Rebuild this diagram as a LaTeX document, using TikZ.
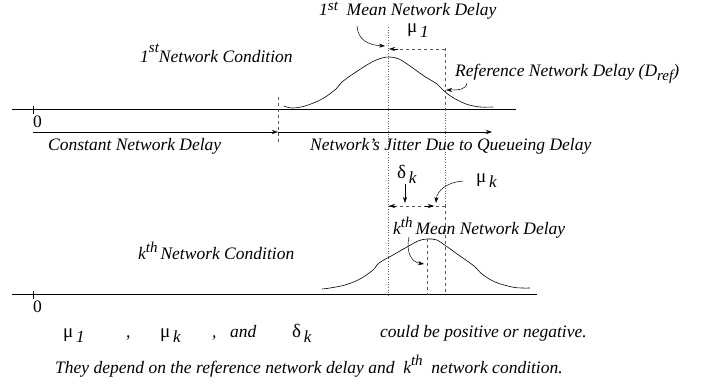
\documentclass[tikz,border=0pt]{standalone}
\usepackage{fontspec}
\setmainfont{Liberation Serif}
\usetikzlibrary{arrows.meta}
\tikzset{
  lbl/.style={font=\fontsize{17.5}{20}\selectfont\itshape, inner sep=0pt, anchor=base west},
  gk/.style={font=\fontsize{19}{21}\selectfont, inner sep=0pt, anchor=base west},
  axis/.style={line width=1pt},
  tip/.style={-{Stealth[length=6pt,width=4pt]}, line width=0.5pt},
  dotl/.style={dotted, line width=0.6pt, gray!80!black},
  dashl/.style={dash pattern=on 3pt off 3pt, line width=0.6pt, gray!70!black},
  crv/.style={line width=0.6pt},
}
\newcommand{\subx}[1]{\raisebox{-5pt}{\fontsize{17}{17}\selectfont\itshape\,#1}}
\newcommand{\supx}[2]{\raisebox{#1}{\fontsize{15}{15}\selectfont #2}}
\begin{document}
\begin{tikzpicture}[x=1pt,y=-1pt]
\useasboundingbox (0,0) rectangle (702,387);
% coordinates
\coordinate (a1l) at (12,110); \coordinate (a1r) at (516,110);
\coordinate (a2l) at (12,295); \coordinate (a2r) at (537,295);
\coordinate (z1) at (33,132); \coordinate (cst) at (278,132); \coordinate (jit) at (492,132);
% axes
\draw[axis] (a1l) -- (a1r);
\draw[axis] (a2l) -- (a2r);
\draw[line width=0.6pt] (33,106) -- (33,114);
\draw[line width=0.6pt] (33,291) -- (33,299);
\node[lbl, font=\fontsize{17.5}{20}\selectfont] (zero1) at (33,128) {0};
\node[lbl, font=\fontsize{17.5}{20}\selectfont] (zero2) at (33,313) {0};
% delay arrows
\draw[dashl] (278,97) -- (278,142);
\draw[tip] (z1) -- (cst);
\draw[tip] (cst) -- (jit);
\node[lbl] (cnd) at (48,151) {Constant Network Delay};
\node[lbl] (njd) at (310,151) {Network's Jitter Due to Queueing Delay};
% top curve
\draw[crv] plot[smooth, tension=0.6] coordinates {(284,106) (292,108) (305,106) (322,99) (336,89) (342,82) (356,72) (372,62) (382,58) (390,57) (399,59) (410,66) (424,76) (437,84) (443,90) (452,97) (466,104) (480,107) (493,107)};
% bottom curve
\draw[crv] plot[smooth, tension=0.6] coordinates {(322,289) (330,288) (345,285) (360,279) (373,270) (379,263) (393,255) (407,247) (418,241) (427,239) (437,240) (446,246) (460,256) (474,266) (482,274) (495,282) (512,287) (522,288) (530,288)};
% vertical guide lines
\draw[dotl] (388,27) -- (388,295);
\draw[dashl] (445,48) -- (445,110);
\draw[dotl] (445,110) -- (445,205);
\draw[dashl] (445,205) -- (445,295);
\draw[dashl] (427,239) -- (427,295);
% mu1 bracket
\coordinate (m1r) at (445,49); \coordinate (m1l) at (389,49);
\draw[dashl] (m1r) -- (398,49);
\draw[tip] (398,49) -- (m1l);
\node[gk] (mu1) at (407,33) {μ\subx{1}};
% 1st mean label
\node[lbl] (m1lab) at (319,16) {1\supx{5pt}{st}\ \ Mean Network Delay};
\draw[tip] (357,26) .. controls (358,40) and (368,45) .. (385,46);
% reference label
\node[lbl] (ref) at (455,77) {Reference Network Delay (D\raisebox{-4pt}{\fontsize{15}{15}\selectfont ref})};
\draw[tip] (467,83) .. controls (466,90) and (458,90) .. (446,90);
% 1st condition
\node[lbl] (c1) at (140,63) {1\supx{10pt}{st}Network Condition};
% delta k bracket
\draw[dashl] (388,206) -- (445,206);
\draw[tip] (396,206) -- (389,206);
\draw[tip] (425,206) -- (434,206);
\node[gk] (dk) at (397,179) {δ\subx{k}};
\draw[tip] (405,184) -- (405,203);
\node[gk] (muk) at (476,183) {μ\subx{k}};
\draw[tip] (463,181) .. controls (448,182) and (437,190) .. (436,203);
% kth mean label
\node[lbl] (kml) at (393,235) {k\supx{7pt}{th}\,Mean Network Delay};
\draw[tip] (409,237) .. controls (406,250) and (410,262) .. (424,264);
% kth condition
\node[lbl] (kc) at (138,260) {k\supx{7pt}{th}\,Network Condition};
% bottom text
\node[gk] (b1) at (63,338) {μ\subx{1}};
\node[lbl] (b2) at (126,338) {,};
\node[gk] (b3) at (160,338) {μ\subx{k}};
\node[lbl] (b4) at (212,338) {,};
\node[lbl] (b5) at (230,338) {and};
\node[gk] (b6) at (292,338) {δ\subx{k}};
\node[lbl] (b7) at (380,338) {could be positive or negative.};
\node[lbl] (b8) at (55,374) {They depend on the reference network delay and\ \ k\supx{8pt}{th}\ \ network condition.};
\end{tikzpicture}
\end{document}
